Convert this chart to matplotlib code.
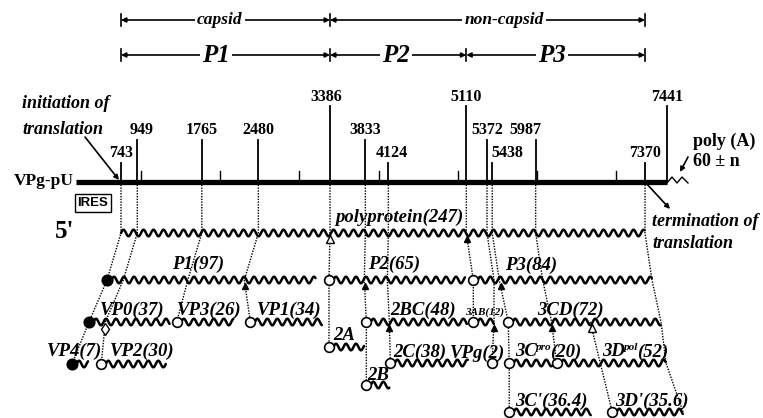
import numpy as np
import matplotlib
matplotlib.use('Agg')
import matplotlib.pyplot as plt

plt.rcParams['font.family'] = 'Liberation Serif'

# nucleotide sites printed above the genome (three label levels)
sites_top = [3386, 5110, 7441]
sites_mid = [949, 1765, 2480, 3833, 5372, 5987]
sites_low = [743, 4124, 5438, 7370]
minor_ticks = [1000, 2000, 3000, 4000, 5000, 6000, 7000]

# regions shown with the bracket arrows
region_bounds = [743, 3386, 7370]
region_names = ['capsid', 'non-capsid']
p_bounds = [743, 3386, 5110, 7370]
p_names = ['P1', 'P2', 'P3']

# proteins: key, name, superscript, size (kDa), first nt, last nt
prot_key = ['poly', 'P1', 'P2', 'P3', 'VP0', 'VP3', 'VP1', '2BC', '3AB', '3CD',
            'VP4', 'VP2', '2A', '2C', 'VPg', '3C', '3D', '2B', "3C'", "3D'"]
prot_label = ['polyprotein', 'P1', 'P2', 'P3', 'VP0', 'VP3', 'VP1', '2BC', '3AB', '3CD',
              'VP4', 'VP2', '2A', '2C', 'VPg', '3C', '3D', '2B', "3C'", "3D'"]
prot_sup = {'3C': 'pro', '3D': 'pol'}
prot_kda = ['247', '97', '65', '84', '37', '26', '34', '48', '12', '72',
            '7', '30', '', '38', '2', '20', '52', '', '36.4', '35.6']
prot_start = [743, 743, 3386, 5110, 743, 1765, 2480, 3833, 5110, 5438,
              743, 949, 3386, 4124, 5372, 5438, 5987, 3833, 5438, 6475]
prot_end = [7370, 3386, 5110, 7370, 1765, 2480, 3386, 5110, 5372, 7370,
            949, 1765, 3833, 5110, 5438, 5987, 7370, 4124, 6475, 7370]

# cleavage sites followed down through the processing cascade
guides = {
    743: ['genome', 'poly', 'P1', 'VP0', 'VP4'],
    949: ['genome', 'poly', 'P1', 'VP0', 'VP2'],
    1765: ['genome', 'poly', 'P1', 'VP3'],
    2480: ['genome', 'poly', 'P1', 'VP1'],
    3386: ['genome', 'poly', 'P2', '2A'],
    3833: ['genome', 'poly', 'P2', '2BC', '2B'],
    4124: ['genome', 'poly', 'P2', '2BC', '2C'],
    5110: ['genome', 'poly', 'P3', '3AB'],
    5372: ['genome', 'poly', 'P3', '3AB', 'VPg'],
    5438: ['genome', 'poly', 'P3', '3CD', '3C', "3C'"],
    5987: ['genome', 'poly', 'P3', '3CD', '3D'],
    6475: ['3CD', "3D'"],
    7370: ['genome', 'poly', 'P3', '3CD', '3D', "3D'"],
}
cuts = [(2480, 'P1', 'k'), (3386, 'poly', 'w'), (3833, 'P2', 'k'), (4124, '2BC', 'k'),
        (5110, 'poly', 'k'), (5372, '3AB', 'k'), (5438, 'P3', 'k'), (5987, '3CD', 'k'),
        (6475, '3CD', 'w')]

# ---- layout (pixels) ----
def nt2x(nt):
    return np.interp(nt, [1, 743, 7370, 7441], [76, 121, 645, 667])

bar_y = 182
row_y = {'poly': 233, 'P1': 280, 'P2': 280, 'P3': 280, 'VP0': 322, 'VP3': 322, 'VP1': 322,
         '2BC': 322, '3AB': 322, '3CD': 322, 'VP4': 364, 'VP2': 364, '2A': 347, '2C': 363,
         'VPg': 363, '3C': 363, '3D': 363, '2B': 385, "3C'": 412, "3D'": 412}
shift = {'poly': 0, 'P1': -14, 'P2': -1, 'P3': 7, 'VP0': -32, 'VP3': -25, 'VP1': -8,
         '2BC': 1, '3AB': 7, '3CD': 16, 'VP4': -49, 'VP2': -36, '2A': -1, '2C': 2,
         'VPg': 5, '3C': 17, '3D': 21, '2B': 1, "3C'": 17, "3D'": 38}
filled = ['P1', 'VP0', 'VP4']
label_pos = {'poly': (335, 217), 'P1': (172, 264), 'P2': (368, 264), 'P3': (505, 265),
             'VP0': (100, 310), 'VP3': (177, 310), 'VP1': (257, 310), '2BC': (390, 310),
             '3AB': (465, 312), '3CD': (537, 310), 'VP4': (47, 351), 'VP2': (110, 351),
             '2A': (333, 336), '2C': (393, 352), 'VPg': (450, 353), '3C': (515, 352),
             '3D': (602, 352), '2B': (367, 375), "3C'": (515, 401), "3D'": (615, 401)}
label_dx = {949: 4, 3386: -4, 4124: 3, 5438: 15, 5987: -10}

fig = plt.figure(figsize=(7.63, 4.18), dpi=100)
ax = fig.add_axes([0, 0, 1, 1])
ax.set_xlim(0, 763)
ax.set_ylim(418, 0)
ax.axis('off')
renderer = fig.canvas.get_renderer()

bold = dict(fontweight='bold')
boldit = dict(fontweight='bold', fontstyle='italic')


def bracket(bounds, names, y, size, tx):
    for i in range(len(names)):
        x0, x1 = nt2x(bounds[i]), nt2x(bounds[i + 1])
        ax.annotate('', xy=(x0, y), xytext=(x1, y),
                    arrowprops=dict(arrowstyle='<|-|>', lw=1.2, color='k',
                                    mutation_scale=7, shrinkA=0, shrinkB=0))
        ax.text(tx[i], y, names[i], ha='center', va='center', fontsize=size,
                bbox=dict(fc='white', ec='none', pad=1.5), **boldit)
    for b in bounds:
        ax.plot([nt2x(b)] * 2, [y - 6, y + 6], color='k', lw=1.2)


bracket(region_bounds, region_names, 20, 12.5, [220, 504])
bracket(p_bounds, p_names, 55, 18, [216, 396, 552])

# genome
ax.plot([nt2x(1), nt2x(7441)], [bar_y, bar_y], color='k', lw=3.8, solid_capstyle='butt')
ax.plot([667, 672, 677, 682, 688], [183, 177, 183, 177, 183], color='k', lw=1)
for s in minor_ticks:
    ax.plot([nt2x(s)] * 2, [171, bar_y], color='k', lw=1)
for sites, ytxt, ytop in [(sites_top, 97, 106), (sites_mid, 130, 140), (sites_low, 153, 163)]:
    for s in sites:
        x = nt2x(s)
        ax.plot([x, x], [ytop, bar_y], color='k', lw=1.3)
        ax.text(x + label_dx.get(s, 0), ytxt, str(s), ha='center', va='center',
                fontsize=11.5, **bold)

ax.text(74, bar_y - 1, 'VPg-pU', ha='right', va='center', fontsize=12.5, **bold)
ax.text(93, 203, 'IRES', ha='center', va='center', fontsize=9.5, fontweight='bold',
        family='Liberation Sans', bbox=dict(fc='white', ec='k', lw=1, pad=2))
ax.text(65, 231, "5'", ha='center', va='center', fontsize=18, **bold)
ax.text(22, 103, 'initiation of', ha='left', va='center', fontsize=13, **boldit)
ax.text(22, 129, 'translation', ha='left', va='center', fontsize=13, **boldit)
ax.annotate('', xy=(119, 180), xytext=(85, 137),
            arrowprops=dict(arrowstyle='-|>', lw=1.2, color='k', mutation_scale=7,
                            shrinkA=0, shrinkB=0))
ax.text(693, 141, 'poly (A)', ha='left', va='center', fontsize=13, **bold)
ax.text(693, 161, '60 \u00b1 n', ha='left', va='center', fontsize=13, **bold)
ax.annotate('', xy=(680, 172), xytext=(688, 157),
            arrowprops=dict(arrowstyle='-|>', lw=1.2, color='k', mutation_scale=7,
                            shrinkA=0, shrinkB=0))
ax.annotate('', xy=(670, 209), xytext=(nt2x(7370), bar_y),
            arrowprops=dict(arrowstyle='-|>', lw=1.2, color='k', mutation_scale=7,
                            shrinkA=0, shrinkB=0))
ax.text(652, 222, 'termination of', ha='left', va='center', fontsize=13, **boldit)
ax.text(652, 243, 'translation', ha='left', va='center', fontsize=13, **boldit)


def pos(key, nt):
    if key == 'genome':
        return nt2x(nt), bar_y
    return nt2x(nt) + shift[key], row_y[key]


# dotted guides
for nt, chain in guides.items():
    pts = np.array([pos(k, nt) for k in chain])
    ax.plot(pts[:, 0], pts[:, 1], color='k', lw=1, ls=(0, (1, 1)), zorder=1)

# arrowheads where a product leaves its precursor
for nt, key, fc in cuts:
    chain = guides[nt]
    i = chain.index(key)
    x0, y0 = pos(key, nt)
    x1, y1 = pos(chain[i + 1], nt)
    t = 6 / (y1 - y0)
    ax.plot(x0 + t * (x1 - x0), y0 + 6, marker='^', ms=6 if fc == 'w' else 4.5,
            mfc=fc, mec='k', mew=1, zorder=4)
x, y = pos('VP0', 949)
ax.plot(x, y + 7, marker='d', ms=6, mfc='w', mec='k', mew=1, zorder=4)

# protein chains drawn as wavy lines
for i, key in enumerate(prot_key):
    x0 = nt2x(prot_start[i]) + shift[key]
    x1 = nt2x(prot_end[i]) + shift[key]
    y = row_y[key]
    xs0 = x0 if key == 'poly' else x0 + 4.5
    xs = np.arange(xs0, x1, 0.5)
    ax.plot(xs, y - 3.3 * np.sin(2 * np.pi * (xs - xs0) / 10), color='k', lw=1.8,
            zorder=3, solid_capstyle='round')
    if key != 'poly':
        ax.plot(x0, y, marker='o', ms=7.5 if key in filled else 7,
                mfc='k' if key in filled else 'w', mec='k', mew=1.2, zorder=5)
    size = 8 if key == '3AB' else 13.5
    kda = '(' + prot_kda[i] + ')' if prot_kda[i] else ''
    lx, ly = label_pos[key]
    if key in prot_sup:
        # name, then a small raised superscript, then the size
        t = ax.text(lx, ly, prot_label[i], ha='left', va='center', fontsize=size,
                    zorder=6, **boldit)
        lx += t.get_window_extent(renderer).width - 1
        t = ax.text(lx, ly - 5, prot_sup[key], ha='left', va='center',
                    fontsize=size * 0.6, zorder=6, **boldit)
        lx += t.get_window_extent(renderer).width - 1
        ax.text(lx, ly, kda, ha='left', va='center', fontsize=size, zorder=6, **boldit)
    else:
        ax.text(lx, ly, prot_label[i] + kda, ha='left', va='center', fontsize=size,
                zorder=6, **boldit)

fig.savefig('out.png', dpi=100)
